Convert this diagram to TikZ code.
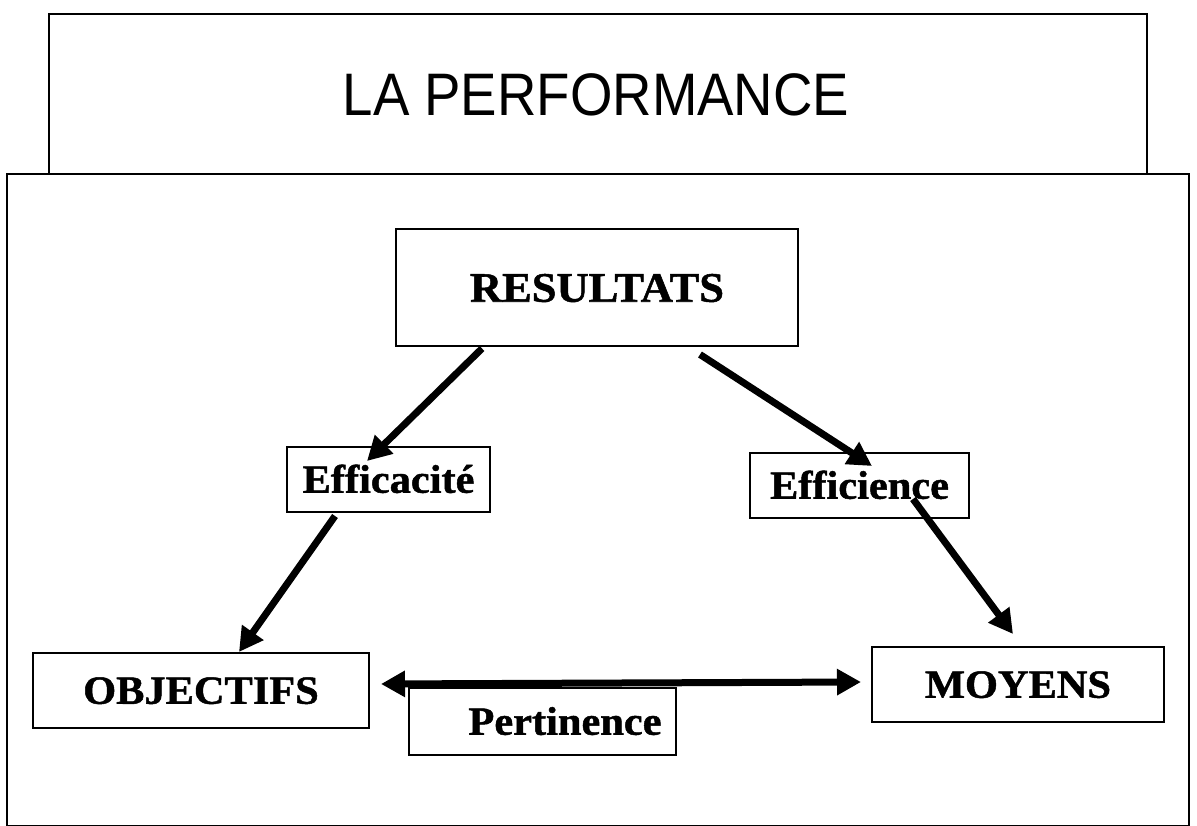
\documentclass[tikz,border=0pt]{standalone}
\usepackage{fontspec}
\usetikzlibrary{arrows.meta,calc}
\newfontfamily\titlefont[FakeStretch=0.91]{Liberation Sans}
\newfontfamily\boxfont[FakeStretch=1.06, BoldFeatures={FakeBold=1.2}]{Liberation Serif}

\tikzset{
  frame/.style={draw=black, line width=2.4pt},
  box/.style={draw=black, line width=2pt, inner sep=0pt,
    font=\boxfont\bfseries\fontsize{40}{40}\selectfont,
    text height=26.5pt, text depth=0pt},
  tip/.tip={Triangle[length=24pt,width=25pt]},
  flow/.style={line width=7pt, -tip},
  both/.style={line width=7pt, tip-tip}
}

\begin{document}
\begin{tikzpicture}[x=1pt, y=-1pt]
  \useasboundingbox (0,0) rectangle (1197,826);

  % title panel and the frame beneath it
  \node[frame, minimum width=1098pt, minimum height=160pt, inner sep=0pt,
        font=\titlefont\fontsize{60}{60}\selectfont, text height=43pt, text depth=0pt]
        (title) at (598,94) {LA PERFORMANCE\hspace*{4pt}};
  \draw[frame, fill=white] (7,174) rectangle (1189,826);

  % the three poles and the three links
  \node[box, minimum width=402pt, minimum height=117pt,
        font=\boxfont\bfseries\fontsize{42}{42}\selectfont, text height=27.5pt]
        (res) at (597,288) {RESULTATS};
  \node[box, minimum width=203pt, minimum height=65pt] (eff) at (388.5,479.5) {Efficacit\'e};
  \node[box, minimum width=219pt, minimum height=65pt] (effi) at (859.5,485.5) {Efficience};
  \node[box, minimum width=336pt, minimum height=75pt] (obj) at (201,690.5) {OBJECTIFS};
  \node[box, minimum width=292pt, minimum height=75pt] (moy) at (1018,684.5) {MOYENS};
  \node[box, minimum width=267pt, minimum height=67pt] (pert) at (542.5,721.5) {\hspace*{45pt}Pertinence};

  % arrows
  \draw[flow] ($(res.south)+(-115,1)$) -- ($(eff.north)+(-21.5,15)$);
  \draw[flow] ($(res.south)+(103,7)$) -- ($(effi.north)+(12.5,14)$);
  \draw[flow] ($(eff.south)+(-53.5,3)$) -- ($(obj.north)+(38,0)$);
  \draw[flow] ($(effi.south)+(53.5,-20)$) -- ($(moy.north)+(-5,-12)$);
  \draw[both] ($(obj.east)+(11,-6.5)$) -- ($(moy.west)+(-10,-2.5)$);
\end{tikzpicture}
\end{document}
